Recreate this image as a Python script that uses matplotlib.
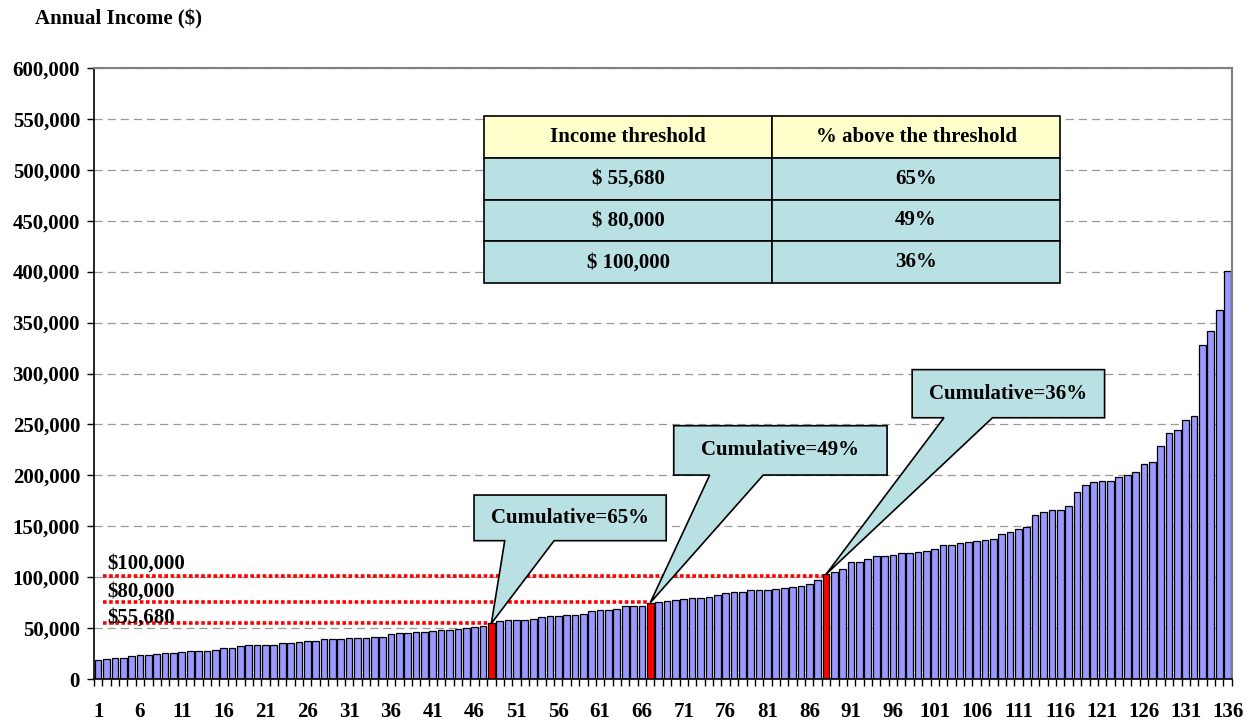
import matplotlib.pyplot as plt
from matplotlib.patches import Polygon

# sorted annual incomes, one bar per respondent
incomes = [
    18900, 19600, 20900, 21200, 22500, 23500, 23500, 25100, 26100, 26100,
    26800, 27500, 27500, 28100, 28800, 31000, 31000, 32400, 33300, 33700,
    33700, 34000, 35600, 36000, 36300, 37300, 37600, 39500, 39900, 39900,
    40200, 40200, 40500, 41800, 41800, 44800, 45100, 45100, 46100, 46400,
    47100, 48000, 48700, 49000, 50000, 51600, 52600, 54800, 56800, 58200,
    58200, 58200, 59200, 61400, 61800, 61800, 62700, 63400, 64100, 66700,
    67600, 68000, 68600, 71600, 71600, 72200, 75200, 76100, 77100, 78100,
    78800, 79700, 80100, 80700, 82400, 85000, 85400, 85400, 87300, 87700,
    87700, 88600, 89300, 90300, 91300, 93100, 97400, 103000, 104900, 108500,
    114700, 115000, 118000, 120600, 121200, 121900, 123500, 123900, 124500, 125800,
    128100, 131400, 132000, 133600, 134600, 135900, 136300, 137300, 142200, 144800,
    147700, 149400, 161400, 163700, 166300, 166300, 170300, 183700, 190800, 193100,
    194100, 194100, 198400, 200700, 203600, 211100, 213400, 228800, 241500, 244400,
    254600, 258500, 328100, 341800, 362700, 401000,
]

highlight_bars = [48, 67, 88]
threshold_bars = [88, 67, 48]
threshold_levels = [101000, 76200, 55680]
threshold_labels = ["$100,000", "$80,000", "$55,680"]

table_header = ["Income threshold", "% above the threshold"]
table_rows = [["$ 55,680", "65%"], ["$ 80,000", "49%"], ["$ 100,000", "36%"]]

callout_texts = ["Cumulative=65%", "Cumulative=49%", "Cumulative=36%"]
callout_bars = [48, 67, 88]

plt.rcParams['font.family'] = ['Liberation Serif', 'DejaVu Serif']
plt.rcParams['font.weight'] = 'bold'

fig = plt.figure(figsize=(12.56, 7.21), dpi=100)
ax = fig.add_axes([0.0748, 0.0578, 0.9059, 0.8483])

positions = list(range(1, len(incomes) + 1))
colors = ['#FF0000' if p in highlight_bars else '#9999FF' for p in positions]
ax.bar(positions, incomes, width=0.8, color=colors, edgecolor='black',
       linewidth=0.9, zorder=2)

ax.set_xlim(0.5, len(incomes) + 0.5)
ax.set_ylim(0, 600000)
ax.set_yticks(range(0, 600001, 50000))
ax.set_yticklabels([f"{v:,}" for v in range(0, 600001, 50000)], fontsize=15)
ax.yaxis.grid(True, color='#999999', linestyle=(0, (6.5, 4)), linewidth=0.9)
ax.set_axisbelow(True)
ax.tick_params(axis='y', length=5, width=1, pad=5)

boundaries = [p - 0.5 for p in positions] + [len(incomes) + 0.5]
label_pos = positions[::5]
ax.set_xticks(boundaries)
ax.set_xticklabels([])
ax.set_xticks(label_pos, minor=True)
ax.set_xticklabels([str(p) for p in label_pos], minor=True, fontsize=15)
ax.tick_params(axis='x', which='major', length=5, width=1)
ax.tick_params(axis='x', which='minor', length=0, pad=16)

for side in ['top', 'right']:
    ax.spines[side].set_color('#808080')
    ax.spines[side].set_linewidth(1.5)
for side in ['left', 'bottom']:
    ax.spines[side].set_color('black')
    ax.spines[side].set_linewidth(1.2)

# dotted threshold lines
for level, bar in zip(threshold_levels, threshold_bars):
    ax.hlines(level, 1.6, bar - 0.4, colors='red', linestyles=(0, (1, 0.7)),
              linewidth=2.6, zorder=3)

label_xy = [(2.1, 108200), (2.05, 80700), (2.15, 55200)]
for (x, y), txt in zip(label_xy, threshold_labels):
    ax.text(x, y, txt, fontsize=15, va='baseline', ha='left', zorder=5)

# callouts: box (x0, x1, y0, y1) and base of the pointer (bx0, bx1)
callout_boxes = [
    (45.93, 68.9, 136000, 180800, 49.6, 55.5),
    (69.8, 95.3, 200400, 248800, 74.1, 80.5),
    (98.3, 121.3, 256600, 303800, 102.1, 107.9),
]
for (x0, x1, y0, y1, bx0, bx1), bar, txt in zip(callout_boxes, callout_bars, callout_texts):
    tip = (bar, incomes[bar - 1])
    verts = [(x0, y0), (bx0, y0), tip, (bx1, y0), (x1, y0), (x1, y1), (x0, y1)]
    ax.add_patch(Polygon(verts, closed=True, facecolor='#B9E0E3',
                         edgecolor='black', linewidth=1.2, zorder=4))
    ax.text((x0 + x1) / 2, (y0 + y1) / 2, txt, ha='center', va='center',
            fontsize=15, zorder=5)

table = ax.table(cellText=table_rows, colLabels=table_header, cellLoc='center',
                 bbox=[0.3428, 0.6480, 0.5063, 0.2730], zorder=6)
table.auto_set_font_size(False)
table.set_fontsize(15)
for (row, col), cell in table.get_celld().items():
    cell.set_facecolor('#FFFFCC' if row == 0 else '#B9E0E3')
    cell.set_edgecolor('black')
    cell.set_linewidth(1.2)
    cell.get_text().set_fontweight('bold')

fig.text(35 / 1256, 1 - 24 / 721, "Annual Income ($)", fontsize=15,
         ha='left', va='baseline')

fig.savefig('out.png', dpi=100)
plt.close()
